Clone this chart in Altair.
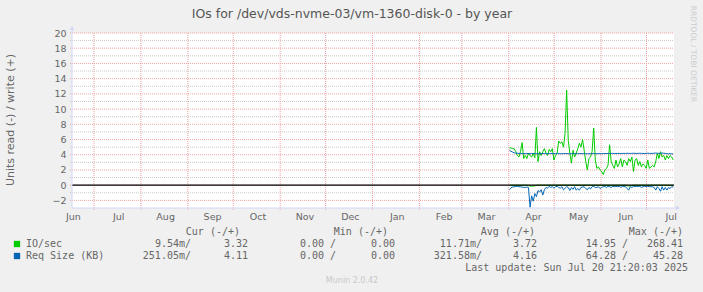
import altair as alt
import pandas as pd

# ---- series: daily averages (write positive, read drawn negative) ----
io_write = [
    4.9, 4.9, 4.8, 4.8, 4.4, 3.9, 3.7, 4.4, 5.6, 3.5,
    3.9, 3.5, 4.2, 3.9, 3.7, 4.2, 3.6, 7.6, 3.1, 4.4,
    3.9, 4.4, 4.8, 4.2, 3.9, 4.7, 4.4, 4.8, 3.3, 3.9,
    4.2, 5.8, 5.5, 5.7, 5.0, 6.8, 12.5, 5.9, 4.2, 2.9,
    4.6, 3.7, 4.2, 4.8, 5.5, 5.0, 6.0, 4.6, 3.1, 2.0,
    3.5, 3.7, 4.4, 7.5, 3.3, 2.2, 2.4, 2.0, 1.8, 1.4,
    2.0, 2.2, 2.6, 5.3, 3.1, 2.6, 2.2, 3.3, 2.4, 2.8,
    3.5, 2.4, 3.3, 3.1, 2.6, 3.5, 3.1, 3.7, 1.8, 3.3,
    3.5, 2.6, 3.1, 2.4, 2.8, 2.6, 2.2, 3.3, 2.2, 2.4,
    2.6, 2.4, 3.1, 4.2, 3.5, 4.4, 3.7, 3.9, 3.3, 3.9,
    3.5, 3.9, 3.7, 3.32,
]
io_read = [
    -0.01, -0.01, -0.01, -0.01, -0.01, -0.01, -0.01, -0.01, -0.01, -0.01,
    -0.01, -0.01, -0.05, -0.12, -0.13, -0.12, -0.10, -0.03, -0.01, -0.01,
    -0.01, -0.01, -0.01, -0.01, -0.01, -0.01, -0.01, -0.01, -0.01, -0.01,
    -0.01, -0.01, -0.01, -0.01, -0.01, -0.01, -0.01, -0.01, -0.01, -0.01,
    -0.01, -0.01, -0.01, -0.01, -0.01, -0.01, -0.01, -0.01, -0.01, -0.01,
    -0.01, -0.01, -0.01, -0.01, -0.01, -0.01, -0.01, -0.01, -0.01, -0.01,
    -0.01, -0.01, -0.01, -0.01, -0.01, -0.01, -0.01, -0.01, -0.01, -0.01,
    -0.01, -0.01, -0.01, -0.01, -0.08, -0.12, -0.10, -0.02, -0.01, -0.01,
    -0.01, -0.01, -0.01, -0.01, -0.01, -0.01, -0.01, -0.01, -0.01, -0.01,
    -0.01, -0.01, -0.01, -0.01, -0.01, -0.01, -0.01, -0.01, -0.01, -0.01,
    -0.01, -0.01, -0.01, -0.01,
]
req_write = [
    4.60, 4.45, 4.35, 4.25, 4.20, 4.20, 4.18, 4.16, 4.15, 4.15,
    4.14, 4.16, 4.15, 4.14, 4.15, 4.16, 4.15, 4.15, 4.14, 4.13,
    4.15, 4.16, 4.15, 4.14, 4.15, 4.15, 4.16, 4.15, 4.14, 4.15,
    4.15, 4.14, 4.13, 4.15, 4.15, 4.16, 4.15, 4.14, 4.13, 4.14,
    4.15, 4.15, 4.14, 4.14, 4.15, 4.15, 4.14, 4.15, 4.14, 4.13,
    4.14, 4.15, 4.15, 4.16, 4.15, 4.14, 4.15, 4.15, 4.14, 4.15,
    4.16, 4.16, 4.17, 4.16, 4.17, 4.18, 4.17, 4.16, 4.18, 4.17,
    4.16, 4.17, 4.18, 4.17, 4.19, 4.18, 4.17, 4.18, 4.19, 4.18,
    4.17, 4.18, 4.19, 4.18, 4.17, 4.16, 4.18, 4.20, 4.18, 4.17,
    4.18, 4.20, 4.22, 4.20, 4.18, 4.20, 4.22, 4.20, 4.18, 4.15,
    4.12, 4.14, 4.12, 4.11,
]
req_read = [
    -0.60, -0.35, -0.25, -0.20, -0.20, -0.15, -0.20, -0.20, -0.25, -0.30,
    -0.30, -0.25, -0.30, -2.90, -1.40, -2.10, -1.10, -1.50, -0.70, -0.90,
    -0.60, -1.30, -0.60, -0.30, -0.40, -0.15, -0.30, -0.20, -0.40, -0.20,
    -0.15, -0.30, -0.40, -0.20, -0.60, -0.40, -0.20, -0.30, -0.70, -0.30,
    -0.55, -0.20, -0.65, -0.45, -0.65, -0.30, -0.25, -0.20, -0.45, -0.60,
    -0.30, -0.50, -0.20, -0.15, -0.30, -0.30, -0.20, -0.45, -0.30, -0.20,
    -0.15, -0.30, -0.15, -0.20, -0.30, -0.15, -0.20, -0.15, -0.20, -0.15,
    -0.30, -0.15, -0.20, -0.20, -0.45, -0.65, -0.20, -0.30, -0.15, -0.20,
    -0.15, -0.20, -0.15, -0.30, -0.20, -0.15, -0.20, -0.15, -0.20, -0.20,
    -0.20, -0.30, -0.65, -0.20, -0.45, -0.80, -0.20, -0.65, -0.30, -0.65,
    -0.30, -0.45, -0.20, -0.25,
]
series_start = "2025-04-01 10:00"
series_end = "2025-07-18 16:00"

# ---- axis / grid values ----
y_major = list(range(-2, 21, 2))
y_minor = list(range(-1, 20, 2))
month_starts = pd.date_range("2024-07-01", "2025-07-01", freq="MS")
month_label_dates = pd.date_range("2024-06-01", "2025-07-01", freq="MS") + pd.Timedelta(days=16)

# ---- legend table ----
legend_names = ["IO/sec", "Req Size (KB)"]
legend_colors = ["#00CC00", "#0066B3"]
legend_headers = ["Cur (-/+)", "Min (-/+)", "Avg (-/+)", "Max (-/+)"]
legend_rows = [
    ["9.54m/", "3.32", "0.00 /", "0.00", "11.71m/", "3.72", "14.95 /", "268.41"],
    ["251.05m/", "4.11", "0.00 /", "0.00", "321.58m/", "4.16", "64.28 /", "45.28"],
]
title_text = "IOs for /dev/vds-nvme-03/vm-1360-disk-0 - by year"
y_title = "Units read (-) / write (+)"
last_update = "Last update: Sun Jul 20 21:20:03 2025"
footer = "Munin 2.0.42"
watermark = "RRDTOOL / TOBI OETIKER"

# ---- styling ----
W, H = 602, 175
X0, Y0 = 72, 33
FONT = "DejaVu Sans"
MONO = "DejaVu Sans Mono"
TEXT = "#666666"
AXIS = "#CFD6F8"
MGRID = "#F4A3A3"
GRID = "#C8C8C8"

times = pd.date_range(series_start, series_end, periods=len(io_write))
df = pd.DataFrame({
    "t": times,
    "io_w": io_write,
    "io_r": io_read,
    "rq_w": req_write,
    "rq_r": req_read,
})


def dt(ts):
    return alt.DateTime(year=ts.year, month=ts.month, date=ts.day,
                        hours=ts.hour, minutes=ts.minute)


x_scale = alt.Scale(domain=[
    alt.DateTime(year=2024, month=6, date=16, hours=11, minutes=15),
    alt.DateTime(year=2025, month=7, date=19, hours=4),
])
y_scale = alt.Scale(domain=[-3, 20], nice=False, zero=False)

x_axis = alt.Axis(
    values=[dt(d) for d in month_label_dates], format="%b", title=None,
    grid=False, ticks=False, domain=False, labelFont=FONT, labelFontSize=9.5,
    labelColor=TEXT, labelPadding=3, labelFlush=False, labelOverlap=False,
)
y_axis = alt.Axis(
    values=y_major, title=None, grid=False, ticks=False, domain=False,
    labelFont=FONT, labelFontSize=9.5, labelColor=TEXT, labelPadding=6,
)


def X(field):
    return alt.X(field, type="temporal", scale=x_scale, axis=x_axis)


def Y(field):
    return alt.Y(field, type="quantitative", scale=y_scale, axis=y_axis)


one = pd.DataFrame({"k": [0]})

# grid
minor_grid = alt.Chart(pd.DataFrame({"v": y_minor})).mark_rule(
    color=GRID, strokeDash=[1, 1], strokeWidth=1
).encode(y=Y("v"), x=alt.value(-2), x2=alt.value(W))
major_grid = alt.Chart(pd.DataFrame({"v": y_major})).mark_rule(
    color=MGRID, strokeDash=[1, 1], strokeWidth=1
).encode(y=Y("v"), x=alt.value(-2), x2=alt.value(W))
month_grid = alt.Chart(pd.DataFrame({"t": month_starts})).mark_rule(
    color=MGRID, strokeDash=[1, 1], strokeWidth=1
).encode(x=X("t"), y=alt.value(0), y2=alt.value(H + 2))


def line(field, color):
    return alt.Chart(df).mark_line(color=color, strokeWidth=1).encode(
        x=X("t"), y=Y(field)
    )


io_r_line = line("io_r", legend_colors[0])
io_w_line = line("io_w", legend_colors[0])
rq_r_line = line("rq_r", legend_colors[1])
rq_w_line = line("rq_w", legend_colors[1])

zero_line = alt.Chart(pd.DataFrame({"v": [0]})).mark_rule(
    color="#000000", strokeWidth=1.2
).encode(y=Y("v"), x=alt.value(0), x2=alt.value(W))

# axis lines with arrow heads
y_axis_line = alt.Chart(one).mark_rule(color=AXIS, strokeWidth=1).encode(
    x=alt.value(0), y=alt.value(-4), y2=alt.value(H))
x_axis_line = alt.Chart(one).mark_rule(color=AXIS, strokeWidth=1).encode(
    x=alt.value(0), x2=alt.value(W + 3), y=alt.value(H))
y_arrow = alt.Chart(one).mark_point(
    shape="triangle-up", filled=True, color=AXIS, size=22, opacity=1
).encode(x=alt.value(0), y=alt.value(-5))
x_arrow = alt.Chart(one).mark_point(
    shape="triangle-right", filled=True, color=AXIS, size=22, opacity=1
).encode(x=alt.value(W + 4), y=alt.value(H))


def text_at(s, x, y, align="left", size=10, font=MONO, color=TEXT, angle=0):
    return alt.Chart(one).mark_text(
        text=s, align=align, baseline="middle", fontSize=size, font=font,
        color=color, angle=angle
    ).encode(x=alt.value(x - X0), y=alt.value(y - Y0))


texts = [
    text_at(title_text, 352, 14, align="center", size=12.5, font=FONT, color="#555555"),
    text_at(y_title, 11, 120, align="center", size=11, font=FONT, angle=270),
    text_at(watermark, 693, 54, align="center", size=7.5, font=FONT, color="#CCCCCC", angle=90),
]

header_right = [240, 388, 535, 683]
for h, xr in zip(legend_headers, header_right):
    texts.append(text_at(h, xr, 232, align="right"))

value_right = [191, 248, 336, 395, 482, 537, 628, 683]
row_y = [244, 256]
for name, color, vals, yy in zip(legend_names, legend_colors, legend_rows, row_y):
    texts.append(
        alt.Chart(one).mark_square(color=color, size=40, opacity=1, filled=True)
        .encode(x=alt.value(17 - X0), y=alt.value(yy - Y0))
    )
    texts.append(text_at(name, 26, yy))
    for v, xr in zip(vals, value_right):
        texts.append(text_at(v, xr, yy, align="right"))

texts.append(text_at(last_update, 688, 268, align="right"))
texts.append(text_at(footer, 352, 281, align="center", size=8, font=FONT, color="#C8C8C8"))

chart = alt.layer(
    minor_grid, major_grid, month_grid,
    io_r_line, io_w_line, rq_r_line, rq_w_line,
    zero_line, y_axis_line, x_axis_line, y_arrow, x_arrow,
    *texts,
).properties(
    width=W, height=H,
    padding={"left": X0, "top": Y0, "right": 703 - X0 - W, "bottom": 292 - Y0 - H},
    autosize=alt.AutoSizeParams(type="none"),
    background="#F0F0F0",
).configure_view(fill="#FFFFFF", stroke=None)

chart.save("out.html", embed_options={"renderer": "svg", "actions": False})
